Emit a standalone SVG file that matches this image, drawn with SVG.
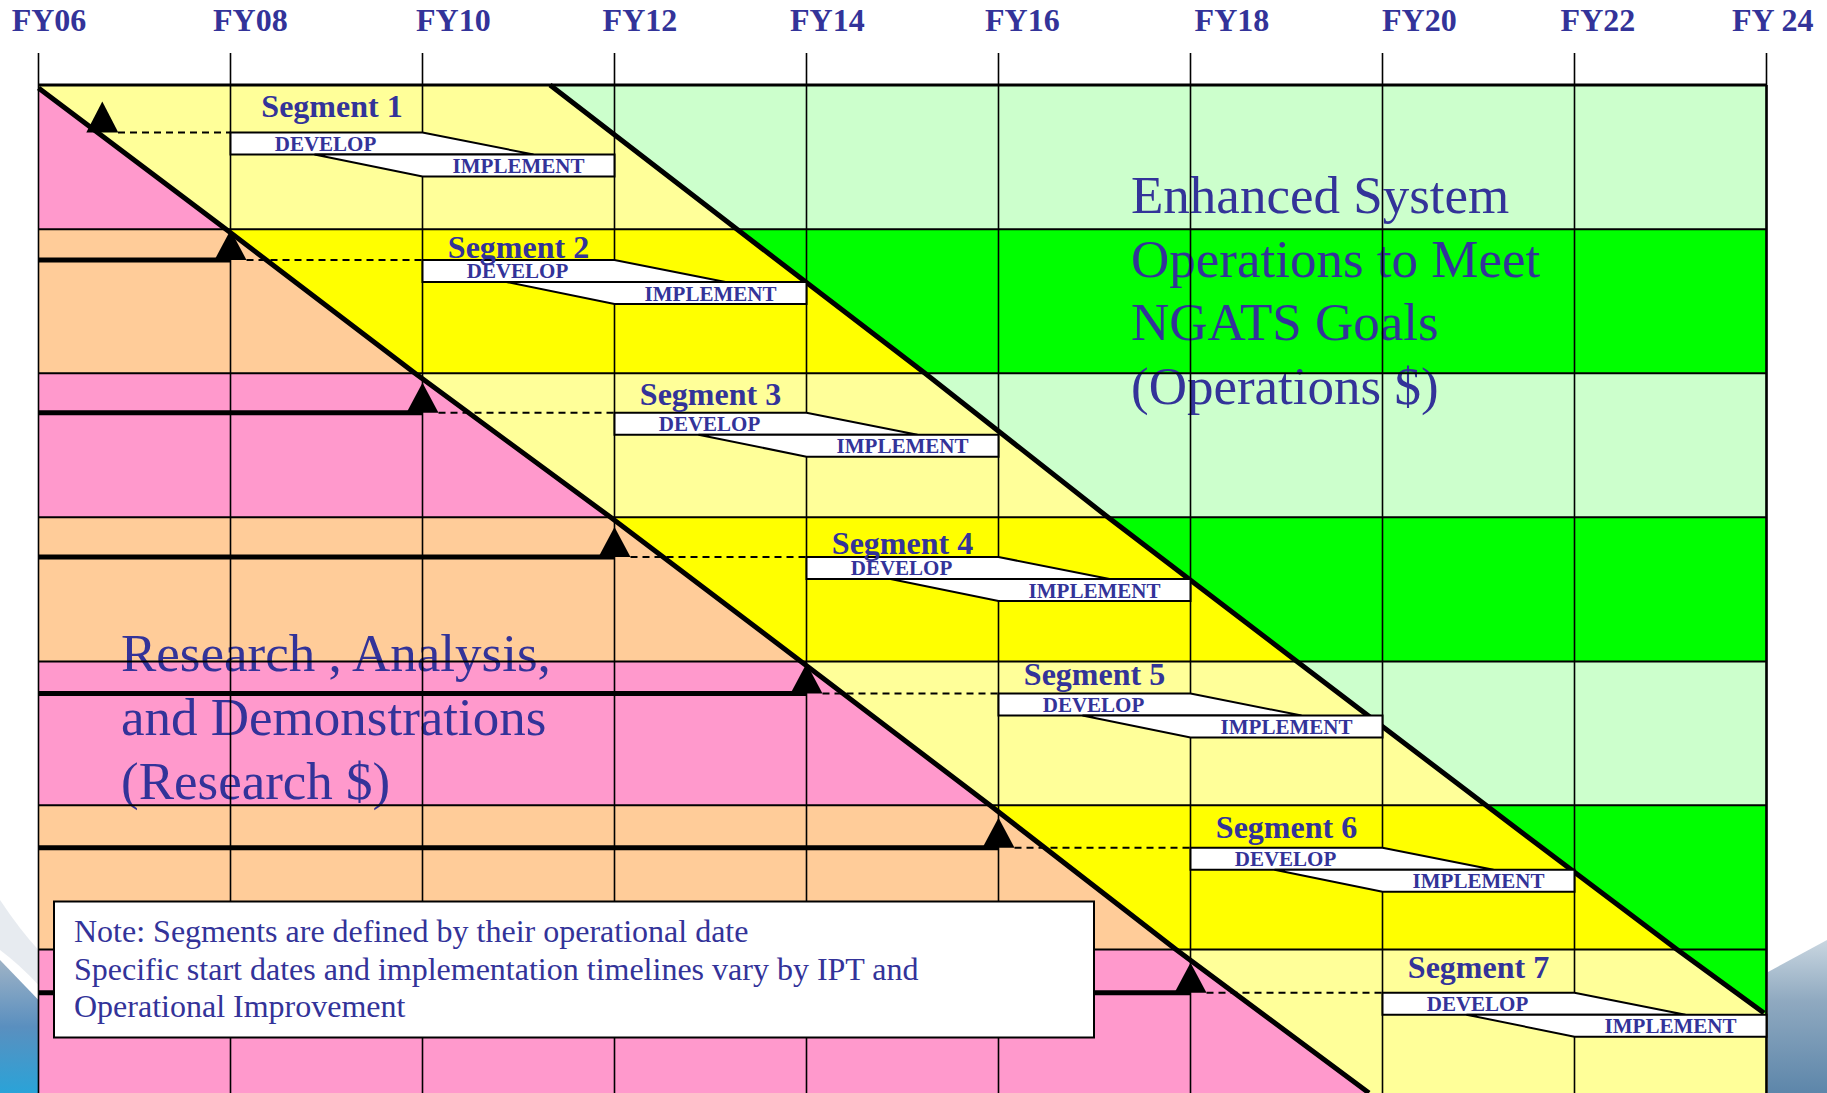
<svg xmlns="http://www.w3.org/2000/svg" width="1827" height="1093" viewBox="0 0 1827 1093">
<defs>
<style>
.pk{fill:#FF99CC}.pc{fill:#FFCC99}.ly{fill:#FFFF99}.yl{fill:#FFFF00}.lg{fill:#CCFFCC}.gr{fill:#00FF00}
.col{stroke:#000;stroke-width:1.6;fill:none}
.row{stroke:#000;stroke-width:2;fill:none}
.diag{stroke:#000;stroke-width:5;fill:none;stroke-linejoin:round}
.bar{stroke:#000;stroke-width:5}
.dash{stroke:#000;stroke-width:2;stroke-dasharray:7 5}
.tri{fill:#000}
.box{fill:#fff;stroke:#000;stroke-width:2}
.seg{font-family:"Liberation Serif","Times New Roman",serif;font-weight:bold;font-size:32px;fill:#333399;text-anchor:middle}
.lbl{font-family:"Liberation Serif","Times New Roman",serif;font-weight:bold;font-size:21px;fill:#333399;text-anchor:middle}
.fy{font-family:"Liberation Serif","Times New Roman",serif;font-weight:bold;font-size:32px;fill:#333399}
.big{font-family:"Liberation Serif","Times New Roman",serif;font-size:53px;fill:#333399}
.note{font-family:"Liberation Serif","Times New Roman",serif;font-size:32px;fill:#333399}
</style>
<clipPath id="leftClip"><polygon points="38.5,88 226,229.3 415,373.3 610.6,517.3 801,661.5 990,805.3 1176,949.6 1369,1093 38.5,1093"/></clipPath>
<clipPath id="rightClip"><polygon points="550,85 1766.5,85 1766.5,1014 1764,1013 1677,949.6 1486,805.3 1297,661.5 1108,517.3 925,373.3 737,229.3"/></clipPath>
<linearGradient id="swR" x1="0" y1="0" x2="0" y2="1">
<stop offset="0" stop-color="#c9d6e0"/><stop offset="0.4" stop-color="#8fa9c0"/><stop offset="1" stop-color="#5d86aa"/>
</linearGradient>
<linearGradient id="swL" x1="0" y1="0" x2="0" y2="1">
<stop offset="0" stop-color="#9fb3c6"/><stop offset="0.5" stop-color="#5a8fbf"/><stop offset="1" stop-color="#2aa3d8"/>
</linearGradient>
</defs>
<rect x="0" y="0" width="1827" height="1093" fill="#fff"/>
<g id="background">
<path d="M0,960 L38.5,1000 L38.5,1093 L0,1093 Z" fill="url(#swL)"/>
<path d="M0,900 Q20,930 38.5,950 L38.5,985 Q20,965 0,950 Z" fill="#dde3ea" opacity="0.7"/>
<path d="M1768,972 L1827,940 L1827,1093 L1768,1093 Z" fill="url(#swR)"/>
</g>
<g id="bands">
<rect class="ly" x="38.5" y="85" width="1728" height="144.3"/>
<rect class="yl" x="38.5" y="229.3" width="1728" height="144"/>
<rect class="ly" x="38.5" y="373.3" width="1728" height="144"/>
<rect class="yl" x="38.5" y="517.3" width="1728" height="144.2"/>
<rect class="ly" x="38.5" y="661.5" width="1728" height="143.8"/>
<rect class="yl" x="38.5" y="805.3" width="1728" height="144.3"/>
<rect class="ly" x="38.5" y="949.6" width="1728" height="143.4"/>
</g>
<g id="research-region" clip-path="url(#leftClip)">
<rect class="pk" x="38.5" y="85" width="1728" height="144.3"/>
<rect class="pc" x="38.5" y="229.3" width="1728" height="144"/>
<rect class="pk" x="38.5" y="373.3" width="1728" height="144"/>
<rect class="pc" x="38.5" y="517.3" width="1728" height="144.2"/>
<rect class="pk" x="38.5" y="661.5" width="1728" height="143.8"/>
<rect class="pc" x="38.5" y="805.3" width="1728" height="144.3"/>
<rect class="pk" x="38.5" y="949.6" width="1728" height="143.4"/>
</g>
<g id="operations-region" clip-path="url(#rightClip)">
<rect class="lg" x="38.5" y="85" width="1728" height="144.3"/>
<rect class="gr" x="38.5" y="229.3" width="1728" height="144"/>
<rect class="lg" x="38.5" y="373.3" width="1728" height="144"/>
<rect class="gr" x="38.5" y="517.3" width="1728" height="144.2"/>
<rect class="lg" x="38.5" y="661.5" width="1728" height="143.8"/>
<rect class="gr" x="38.5" y="805.3" width="1728" height="144.3"/>
<rect class="gr" x="38.5" y="949.6" width="1728" height="143.4"/>
</g>
<g id="region-labels">
<text class="big" x="1131" y="212.7">Enhanced System</text>
<text class="big" x="1131" y="276.7">Operations to Meet</text>
<text class="big" x="1131" y="340.2">NGATS Goals</text>
<text class="big" x="1131" y="403.7">(Operations $)</text>
<text class="big" x="121" y="670.7">Research , Analysis,</text>
<text class="big" x="121" y="735">and Demonstrations</text>
<text class="big" x="121" y="799">(Research $)</text>
</g>
<g id="grid">
<line class="col" x1="38.5" y1="53" x2="38.5" y2="1093"/>
<line class="col" x1="230.5" y1="53" x2="230.5" y2="1093"/>
<line class="col" x1="422.5" y1="53" x2="422.5" y2="1093"/>
<line class="col" x1="614.5" y1="53" x2="614.5" y2="1093"/>
<line class="col" x1="806.5" y1="53" x2="806.5" y2="1093"/>
<line class="col" x1="998.5" y1="53" x2="998.5" y2="1093"/>
<line class="col" x1="1190.5" y1="53" x2="1190.5" y2="1093"/>
<line class="col" x1="1382.5" y1="53" x2="1382.5" y2="1093"/>
<line class="col" x1="1574.5" y1="53" x2="1574.5" y2="1093"/>
<line class="col" x1="1766.5" y1="53" x2="1766.5" y2="1093"/>
<line x1="1766.5" y1="85" x2="1766.5" y2="1093" stroke="#000" stroke-width="2.5"/>
<line x1="38.5" y1="85" x2="1766.5" y2="85" stroke="#000" stroke-width="3"/>
<line class="row" x1="38.5" y1="229.3" x2="1766.5" y2="229.3"/>
<line class="row" x1="38.5" y1="373.3" x2="1766.5" y2="373.3"/>
<line class="row" x1="38.5" y1="517.3" x2="1766.5" y2="517.3"/>
<line class="row" x1="38.5" y1="661.5" x2="1766.5" y2="661.5"/>
<line class="row" x1="38.5" y1="805.3" x2="1766.5" y2="805.3"/>
<line class="row" x1="38.5" y1="949.6" x2="1766.5" y2="949.6"/>
</g>
<g id="connectors">
<polyline class="diag" points="38.5,88 226,229.3 415,373.3 610.6,517.3 801,661.5 990,805.3 1176,949.6 1369,1093"/>
<polyline class="diag" points="550,85 737,229.3 925,373.3 1108,517.3 1297,661.5 1486,805.3 1677,949.6 1764,1013"/>
</g>
<g id="seg1">
<line class="dash" x1="118" y1="132.5" x2="230.5" y2="132.5"/>
<polygon class="tri" points="86.3,132.5 102.3,101.5 118.3,132.5"/>
<polygon class="box" points="230.5,132.5 422.5,132.5 533.5,154.5 230.5,154.5"/>
<polygon class="box" points="314.5,154.5 614.5,154.5 614.5,176.5 422.5,176.5"/>
<text class="seg" x="332" y="116.7">Segment 1</text>
<text class="lbl" x="325.5" y="150.8">DEVELOP</text>
<text class="lbl" x="518.5" y="173">IMPLEMENT</text>
</g>
<g id="seg2">
<line class="bar" x1="38.5" y1="260" x2="230.5" y2="260"/>
<line class="dash" x1="246.5" y1="260" x2="422.5" y2="260"/>
<polygon class="tri" points="214.5,260 230.5,230 246.5,260"/>
<polygon class="box" points="422.5,260 614.5,260 725.5,282 422.5,282"/>
<polygon class="box" points="506.5,282 806.5,282 806.5,304 614.5,304"/>
<text class="seg" x="518.5" y="258.3">Segment 2</text>
<text class="lbl" x="517.5" y="278.3">DEVELOP</text>
<text class="lbl" x="710.5" y="300.5">IMPLEMENT</text>
</g>
<g id="seg3">
<line class="bar" x1="38.5" y1="412.7" x2="422.5" y2="412.7"/>
<line class="dash" x1="438.5" y1="412.7" x2="614.5" y2="412.7"/>
<polygon class="tri" points="406.5,412.7 422.5,382.7 438.5,412.7"/>
<polygon class="box" points="614.5,412.7 806.5,412.7 917.5,434.7 614.5,434.7"/>
<polygon class="box" points="698.5,434.7 998.5,434.7 998.5,456.7 806.5,456.7"/>
<text class="seg" x="710.5" y="405">Segment 3</text>
<text class="lbl" x="709.5" y="431">DEVELOP</text>
<text class="lbl" x="902.5" y="453.2">IMPLEMENT</text>
</g>
<g id="seg4">
<line class="bar" x1="38.5" y1="557" x2="614.5" y2="557"/>
<line class="dash" x1="630.5" y1="557" x2="806.5" y2="557"/>
<polygon class="tri" points="598.5,557 614.5,527 630.5,557"/>
<polygon class="box" points="806.5,557 998.5,557 1109.5,579 806.5,579"/>
<polygon class="box" points="890.5,579 1190.5,579 1190.5,601 998.5,601"/>
<text class="seg" x="902.5" y="554">Segment 4</text>
<text class="lbl" x="901.5" y="575.3">DEVELOP</text>
<text class="lbl" x="1094.5" y="597.5">IMPLEMENT</text>
</g>
<g id="seg5">
<line class="bar" x1="38.5" y1="693.5" x2="806.5" y2="693.5"/>
<line class="dash" x1="822.5" y1="693.5" x2="998.5" y2="693.5"/>
<polygon class="tri" points="790.5,693.5 806.5,663.5 822.5,693.5"/>
<polygon class="box" points="998.5,693.5 1190.5,693.5 1301.5,715.5 998.5,715.5"/>
<polygon class="box" points="1082.5,715.5 1382.5,715.5 1382.5,737.5 1190.5,737.5"/>
<text class="seg" x="1094.5" y="685">Segment 5</text>
<text class="lbl" x="1093.5" y="711.8">DEVELOP</text>
<text class="lbl" x="1286.5" y="734">IMPLEMENT</text>
</g>
<g id="seg6">
<line class="bar" x1="38.5" y1="847.7" x2="998.5" y2="847.7"/>
<line class="dash" x1="1014.5" y1="847.7" x2="1190.5" y2="847.7"/>
<polygon class="tri" points="982.5,847.7 998.5,817.7 1014.5,847.7"/>
<polygon class="box" points="1190.5,847.7 1382.5,847.7 1493.5,869.7 1190.5,869.7"/>
<polygon class="box" points="1274.5,869.7 1574.5,869.7 1574.5,891.7 1382.5,891.7"/>
<text class="seg" x="1286.5" y="838.3">Segment 6</text>
<text class="lbl" x="1285.5" y="866">DEVELOP</text>
<text class="lbl" x="1478.5" y="888.2">IMPLEMENT</text>
</g>
<g id="seg7">
<line class="bar" x1="38.5" y1="992.7" x2="1190.5" y2="992.7"/>
<line class="dash" x1="1206.5" y1="992.7" x2="1382.5" y2="992.7"/>
<polygon class="tri" points="1174.5,992.7 1190.5,962.7 1206.5,992.7"/>
<polygon class="box" points="1382.5,992.7 1574.5,992.7 1685.5,1014.7 1382.5,1014.7"/>
<polygon class="box" points="1466.5,1014.7 1766.5,1014.7 1766.5,1036.7 1574.5,1036.7"/>
<text class="seg" x="1478.5" y="978.3">Segment 7</text>
<text class="lbl" x="1477.5" y="1011">DEVELOP</text>
<text class="lbl" x="1670.5" y="1033.2">IMPLEMENT</text>
</g>
<g id="note">
<rect x="54" y="901.5" width="1040" height="136" fill="#fff" stroke="#000" stroke-width="2"/>
<text class="note" x="74" y="942">Note: Segments are defined by their operational date</text>
<text class="note" x="74" y="980">Specific start dates and implementation timelines vary by IPT and</text>
<text class="note" x="74" y="1017">Operational Improvement</text>
</g>
<g id="axis">
<text class="fy" x="11.7" y="30.5">FY06</text>
<text class="fy" x="213" y="30.5">FY08</text>
<text class="fy" x="416" y="30.5">FY10</text>
<text class="fy" x="602.6" y="30.5">FY12</text>
<text class="fy" x="790" y="30.5">FY14</text>
<text class="fy" x="985" y="30.5">FY16</text>
<text class="fy" x="1194.6" y="30.5">FY18</text>
<text class="fy" x="1382" y="30.5">FY20</text>
<text class="fy" x="1560.6" y="30.5">FY22</text>
<text class="fy" x="1732" y="30.5">FY 24</text>
</g>
</svg>
